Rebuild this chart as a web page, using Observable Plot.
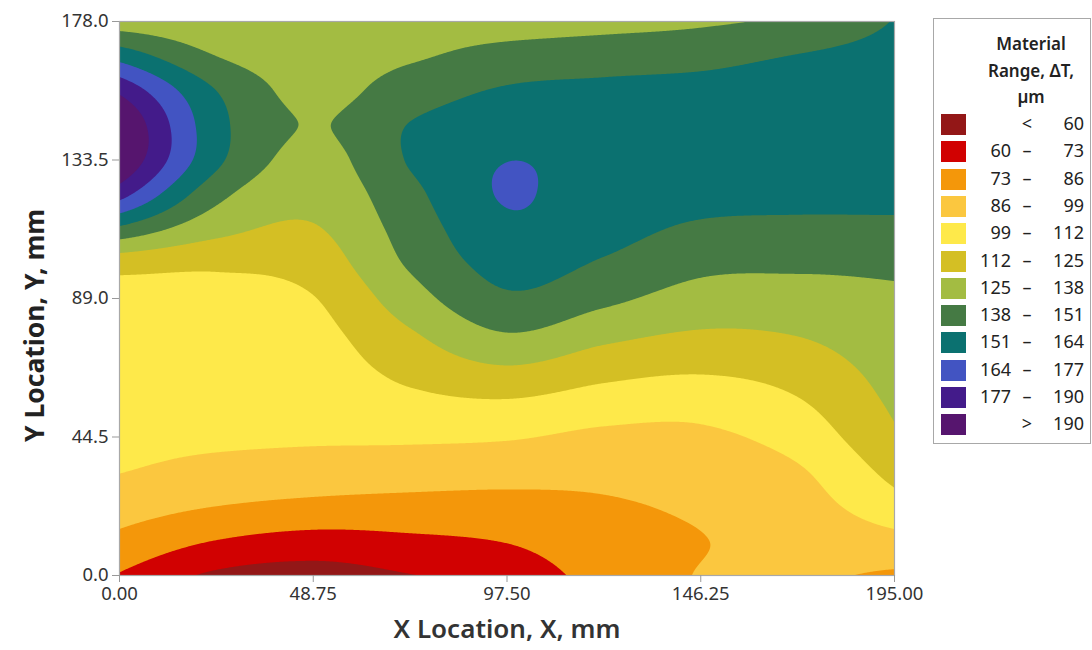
<!DOCTYPE html>
<html>
<head>
<meta charset="utf-8">
<script src="https://cdn.jsdelivr.net/npm/d3@7"></script>
<script src="https://cdn.jsdelivr.net/npm/@observablehq/plot@0.6"></script>
<style>
  body { margin: 0; background: #fff; font-family: "Noto Sans", "Open Sans", sans-serif; }
  #wrap { position: relative; width: 1092px; height: 650px; overflow: hidden; }
  #chart { position: absolute; left: 0; top: 0; }
  #legend { position: absolute; left: 933px; top: 18px; width: 158px; height: 426px;
            border: 1px solid #a8a8a8; box-sizing: border-box; color: #222; }
  #legend .t { position: absolute; left: 0; width: 194px; text-align: center; font-size: 17px; font-weight: 600; }
  #legend .sw { position: absolute; left: 7px; width: 25px; height: 21px; }
  #legend .n { position: absolute; font-size: 18px; line-height: 21px; text-align: right; }
</style>
</head>
<body>
<div id="wrap"><div id="chart"></div><div id="legend"></div></div>
<script>
// ---- data ----
const xGrid = [0, 24.375, 48.75, 73.125, 97.5, 121.875, 146.25, 170.625, 195];
const yGrid = [0, 11.125, 22.25, 33.375, 44.5, 55.625, 66.75, 77.875, 89, 100.125, 111.25, 122.375, 133.5, 144.625, 155.75, 166.875, 178];
// Material range ΔT (µm), one row per yGrid value, one column per xGrid value
const deltaT = [
  [72.0, 57.5, 54.0, 59.5, 65.0, 78.0, 86.5, 88.0, 84.0],
  [82.8, 72.7, 68.2, 70.5, 73.6, 81.0, 85.6, 90.0, 94.9],
  [91.5, 86.0, 82.8, 81.8, 81.8, 84.5, 88.0, 93.5, 106.9],
  [99.3, 95.4, 93.3, 91.9, 90.6, 89.5, 91.8, 97.5, 115.9],
  [101.5, 101.0, 100.5, 100.9, 100.1, 96.3, 96.6, 104.3, 123.0],
  [103.0, 102.5, 103.0, 108.7, 110.8, 105.9, 103.9, 110.9, 127.1],
  [104.5, 104.0, 105.5, 116.3, 124.1, 117.1, 114.0, 118.2, 130.1],
  [106.0, 105.5, 108.0, 123.8, 137.8, 129.1, 124.0, 125.7, 133.1],
  [107.5, 108.0, 111.5, 132.5, 149.0, 141.0, 132.9, 132.8, 136.0],
  [117.0, 114.1, 117.6, 139.6, 155.6, 149.6, 141.3, 140.2, 140.6],
  [148.0, 129.1, 124.0, 143.6, 161.3, 155.0, 149.2, 148.3, 148.4],
  [182.0, 141.9, 129.0, 147.6, 165.0, 156.0, 154.5, 154.0, 154.0],
  [203.0, 154.0, 133.5, 152.0, 163.8, 158.5, 157.0, 157.0, 156.5],
  [204.5, 155.5, 137.3, 151.5, 158.4, 157.5, 157.5, 158.0, 157.0],
  [187.5, 151.0, 134.0, 144.5, 152.4, 154.0, 155.0, 157.0, 156.5],
  [159.0, 138.0, 132.0, 136.5, 142.4, 145.0, 147.0, 151.5, 155.0],
  [130.0, 128.0, 130.0, 133.0, 132.0, 133.5, 136.0, 141.0, 151.5]
];
const thresholds = [60, 73, 86, 99, 112, 125, 138, 151, 164, 177, 190];
const colors = ["#931717", "#d10101", "#f4970a", "#fbc73f", "#fee94a", "#d4bf24",
                "#a3bc42", "#457a44", "#0b7170", "#4254c2", "#431b8a", "#56156e"];
const xTicks = [0, 48.75, 97.5, 146.25, 195];
const yTicks = [0, 44.5, 89, 133.5, 178];
const xTitle = "X Location, X, mm";
const yTitle = "Y Location, Y, mm";
const legendTitle = ["Material", "Range, ΔT,", "µm"];

// ---- build point table ----
const points = [];
yGrid.forEach((y, j) => xGrid.forEach((x, i) => points.push({x, y, v: deltaT[j][i]})));

// smooth (Catmull-Rom) interpolation of the measured grid for the contour raster
function cr(p0, p1, p2, p3, t) {
  const t2 = t * t, t3 = t2 * t;
  return 0.5 * (2 * p1 + (p2 - p0) * t + (2 * p0 - 5 * p1 + 4 * p2 - p3) * t2 + (3 * p1 - p0 - 3 * p2 + p3) * t3);
}
function bicubic(index, width, height, X, Y, V) {
  const nx = xGrid.length, ny = yGrid.length;
  const G = Array.from({length: ny}, () => new Array(nx));
  let x0, x1, y0, y1;
  for (const k of index) {
    const i = k % nx, j = Math.floor(k / nx);
    G[j][i] = V[k];
    if (i === 0) x0 = X[k];
    if (i === nx - 1) x1 = X[k];
    if (j === 0) y0 = Y[k];
    if (j === ny - 1) y1 = Y[k];
  }
  const get = (j, i) => {
    if (i < 0) return 2 * get(j, 0) - get(j, 1);
    if (i >= nx) return 2 * get(j, nx - 1) - get(j, nx - 2);
    if (j < 0) return 2 * get(0, i) - get(1, i);
    if (j >= ny) return 2 * get(ny - 1, i) - get(ny - 2, i);
    return G[j][i];
  };
  const F = new Float64Array(width * height);
  for (let py = 0; py < height; py++) {
    let gy = (py + 0.5 - y0) / (y1 - y0) * (ny - 1);
    gy = Math.max(0, Math.min(ny - 1, gy));
    const j = Math.min(ny - 2, Math.floor(gy)), ty = gy - j;
    for (let px = 0; px < width; px++) {
      let gx = (px + 0.5 - x0) / (x1 - x0) * (nx - 1);
      gx = Math.max(0, Math.min(nx - 1, gx));
      const i = Math.min(nx - 2, Math.floor(gx)), tx = gx - i;
      const r = [];
      for (let m = -1; m <= 2; m++) r.push(cr(get(j + m, i - 1), get(j + m, i), get(j + m, i + 1), get(j + m, i + 2), tx));
      F[py * width + px] = cr(r[0], r[1], r[2], r[3], ty);
    }
  }
  return F;
}

const plot = Plot.plot({
  width: 920,
  height: 650,
  marginLeft: 119,
  marginRight: 26,
  marginTop: 21,
  marginBottom: 75,
  style: {fontFamily: '"Noto Sans", "Open Sans", sans-serif', background: "#fff", overflow: "visible"},
  x: {domain: [0, 195]},
  y: {domain: [0, 178]},
  color: {type: "threshold", domain: thresholds, range: colors},
  marks: [
    Plot.frame({fill: colors[0]}),
    Plot.contour(points, {
      x: "x", y: "y", value: "v", fill: "value",
      thresholds, interpolate: bicubic, pixelSize: 1, stroke: "none"
    }),
    Plot.frame({stroke: "#a8a8a8", strokeWidth: 1.2}),
    Plot.axisX({ticks: xTicks, tickFormat: d => d.toFixed(2), tickSize: 7, tickPadding: 4,
                fontSize: 18.5, stroke: "#999", fill: "#333", label: null}),
    Plot.axisY({ticks: yTicks, tickFormat: d => d.toFixed(1), tickSize: 7, tickPadding: 4,
                fontSize: 18.5, stroke: "#999", fill: "#333", label: null}),
    Plot.text([xTitle], {frameAnchor: "bottom", textAnchor: "middle", dy: 62, fontSize: 26, fontWeight: 600, fill: "#333"}),
    Plot.text([yTitle], {frameAnchor: "left", textAnchor: "middle", dx: -84, dy: 27, rotate: -90, fontSize: 26.5, fontWeight: 700, fill: "#222"})
  ]
});
document.getElementById("chart").appendChild(plot);

// ---- legend ----
const lg = document.getElementById("legend");
legendTitle.forEach((s, k) => {
  const d = document.createElement("div");
  d.className = "t";
  d.style.top = (13 + k * 26.5) + "px";
  d.textContent = s;
  lg.appendChild(d);
});
colors.forEach((c, k) => {
  const top = 95 + k * 27.3;
  const sw = document.createElement("div");
  sw.className = "sw"; sw.style.top = top + "px"; sw.style.background = c;
  lg.appendChild(sw);
  let a, mid, b;
  if (k === 0) { a = ""; mid = "<"; b = String(thresholds[0]); }
  else if (k === colors.length - 1) { a = ""; mid = ">"; b = String(thresholds[thresholds.length - 1]); }
  else { a = String(thresholds[k - 1]); mid = "–"; b = String(thresholds[k]); }
  const mk = (txt, right, w) => {
    const e = document.createElement("div");
    e.className = "n"; e.textContent = txt;
    e.style.top = (top - 1) + "px";
    e.style.left = (right - w) + "px"; e.style.width = w + "px";
    lg.appendChild(e);
  };
  mk(a, 77, 50);
  const m = document.createElement("div");
  m.className = "n"; m.textContent = mid; m.style.textAlign = "center";
  m.style.top = (top - 1) + "px"; m.style.left = "84px"; m.style.width = "18px";
  lg.appendChild(m);
  mk(b, 150, 50);
});
</script>
</body>
</html>
